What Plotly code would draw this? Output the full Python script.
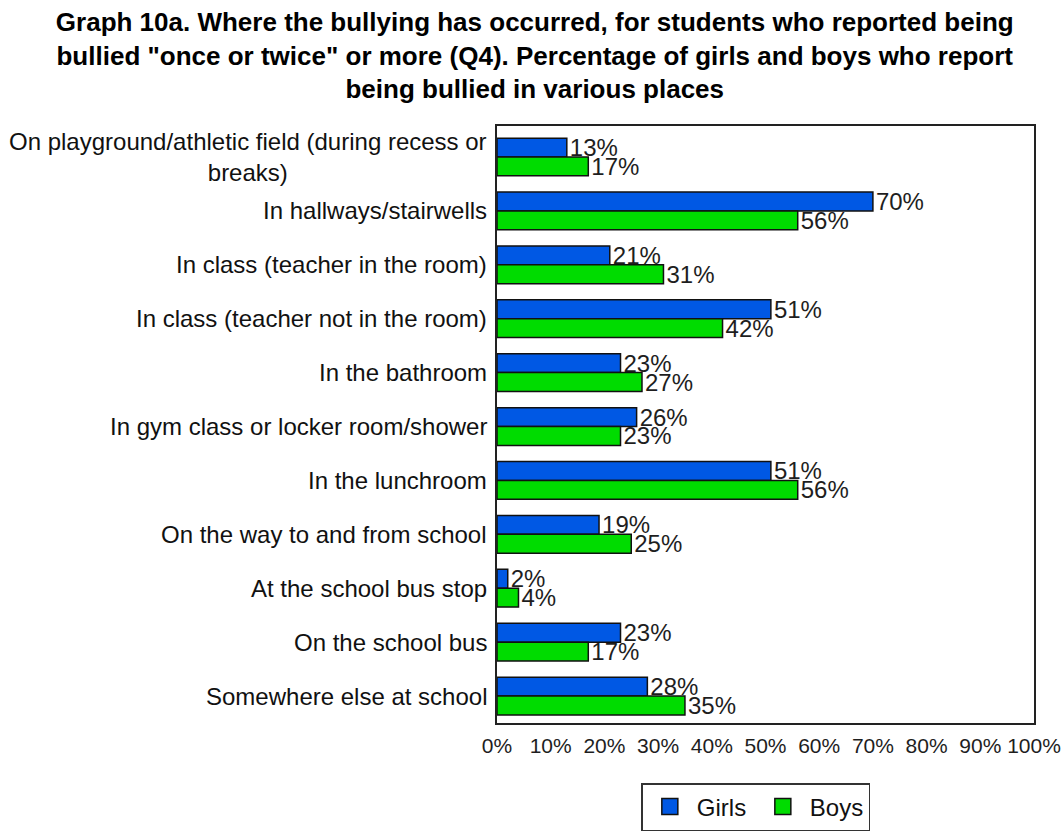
import plotly.graph_objects as go

# Places where students reported being bullied
places = [
    "On playground/athletic field (during recess or<br>breaks)",
    "In hallways/stairwells",
    "In class (teacher in the room)",
    "In class (teacher not in the room)",
    "In the bathroom",
    "In gym class or locker room/shower",
    "In the lunchroom",
    "On the way to and from school",
    "At the school bus stop",
    "On the school bus",
    "Somewhere else at school",
]

# Percentage reporting each place
girls = [13, 70, 21, 51, 23, 26, 51, 19, 2, 23, 28]
boys = [17, 56, 31, 42, 27, 23, 56, 25, 4, 17, 35]

x_ticks = [0, 10, 20, 30, 40, 50, 60, 70, 80, 90, 100]

FONT = "Liberation Sans, Arial, sans-serif"
GIRLS_COLOR = "#0058e4"
BOYS_COLOR = "#00dc00"

fig = go.Figure()

for name, values, color in [("Girls", girls, GIRLS_COLOR), ("Boys", boys, BOYS_COLOR)]:
    fig.add_trace(go.Bar(
        name=name,
        y=places,
        x=values,
        orientation="h",
        marker=dict(color=color, line=dict(color="#111111", width=1.5)),
        text=[f"{v}%" for v in values],
        textposition="outside",
        constraintext="none",
        cliponaxis=False,
        textfont=dict(family=FONT, size=24, color="#1e1e1e"),
        showlegend=False,
        hoverinfo="x+y",
    ))

# Legend entries with larger square swatches
for name, color in [("Girls", GIRLS_COLOR), ("Boys", BOYS_COLOR)]:
    fig.add_trace(go.Scatter(
        name=name,
        x=[None],
        y=[None],
        mode="markers",
        marker=dict(symbol="square", size=22, color=color,
                    line=dict(color="#111111", width=1.5)),
        showlegend=True,
    ))

# Category labels, centred line by line
for place in places:
    fig.add_annotation(
        x=0, xref="paper", xanchor="right", xshift=-8,
        y=place, yref="y", yanchor="middle",
        text=place, showarrow=False, align="center",
        font=dict(family=FONT, size=24, color="#111111"),
    )

fig.update_layout(
    width=1061,
    height=834,
    autosize=False,
    margin=dict(l=497, r=27, t=126, b=111),
    paper_bgcolor="white",
    plot_bgcolor="white",
    barmode="group",
    bargap=0.3,
    bargroupgap=0,
    title=dict(
        text=("Graph 10a. Where the bullying has occurred, for students who reported being<br>"
              "bullied \"once or twice\" or more (Q4). Percentage of girls and boys who report<br>"
              "being bullied in various places"),
        x=0.504, xref="container", xanchor="center",
        y=0.963, yref="container", yanchor="top",
        font=dict(family=FONT, size=26, color="#000000", weight="bold"),
        automargin=False,
    ),
    xaxis=dict(
        range=[0, 100],
        tickvals=x_ticks,
        ticktext=[f"{t}%" for t in x_ticks],
        showgrid=False,
        zeroline=False,
        showline=True,
        mirror=True,
        linecolor="#222222",
        linewidth=2,
        ticks="",
        ticklabelstandoff=3,
        tickfont=dict(family=FONT, size=21, color="#1e1e1e"),
        automargin=False,
        fixedrange=True,
    ),
    yaxis=dict(
        type="category",
        categoryorder="array",
        categoryarray=places,
        autorange="reversed",
        showticklabels=False,
        showgrid=False,
        zeroline=False,
        showline=True,
        mirror=True,
        linecolor="#222222",
        linewidth=2,
        ticks="",
        automargin=False,
        fixedrange=True,
    ),
    legend=dict(
        orientation="h",
        x=0.482, xref="paper", xanchor="center",
        y=1 - 783 / 834, yref="container", yanchor="top",
        bordercolor="#333333",
        borderwidth=1.5,
        bgcolor="white",
        font=dict(family=FONT, size=24, color="#111111"),
        itemsizing="trace",
        itemwidth=44,
        entrywidth=54,
    ),
)

fig.write_html("out.html")
